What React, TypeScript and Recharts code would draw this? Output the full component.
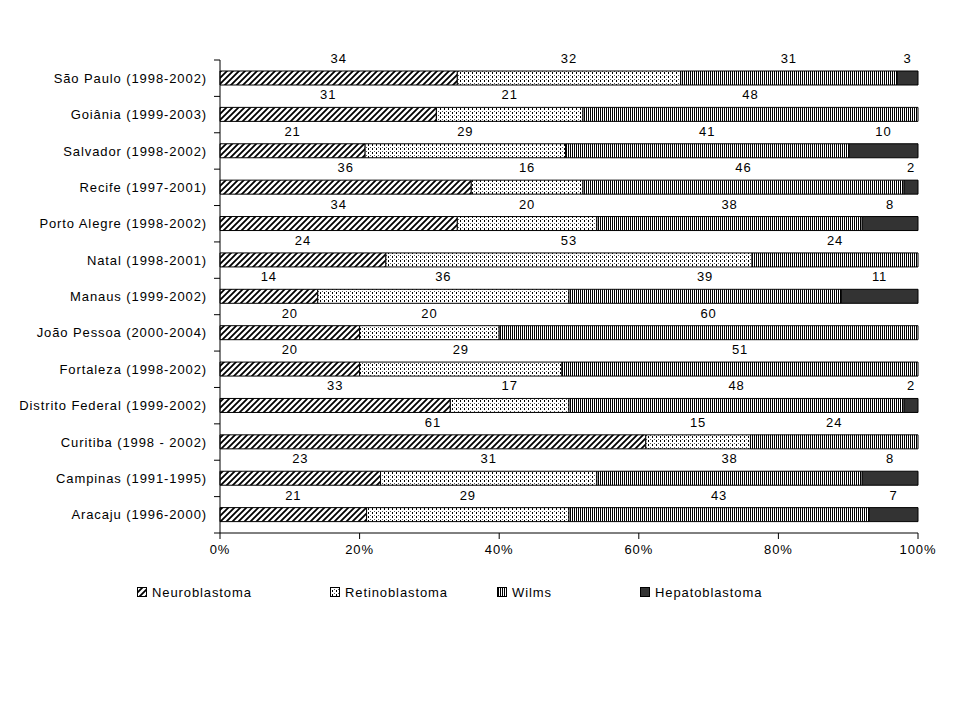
import React from 'react';
import { BarChart, Bar, XAxis, YAxis, LabelList } from 'recharts';

const categories = [
  'São Paulo (1998-2002)',
  'Goiânia (1999-2003)',
  'Salvador (1998-2002)',
  'Recife (1997-2001)',
  'Porto Alegre (1998-2002)',
  'Natal (1998-2001)',
  'Manaus (1999-2002)',
  'João Pessoa (2000-2004)',
  'Fortaleza (1998-2002)',
  'Distrito Federal (1999-2002)',
  'Curitiba (1998 - 2002)',
  'Campinas (1991-1995)',
  'Aracaju (1996-2000)',
];
const neuroblastoma = [34, 31, 21, 36, 34, 24, 14, 20, 20, 33, 61, 23, 21];
const retinoblastoma = [32, 21, 29, 16, 20, 53, 36, 20, 29, 17, 15, 31, 29];
const wilms = [31, 48, 41, 46, 38, 24, 39, 60, 51, 48, 24, 38, 43];
const hepatoblastoma = [3, 0, 10, 2, 8, 0, 11, 0, 0, 2, 0, 8, 7];
const xTicks = [0, 0.2, 0.4, 0.6, 0.8, 1];

const seriesNames = ['Neuroblastoma', 'Retinoblastoma', 'Wilms', 'Hepatoblastoma'];
const seriesKeys = ['neuro', 'retino', 'wilms', 'hepato'];
const seriesFills = ['url(#pNeuro)', 'url(#pRetino)', 'url(#pWilms)', '#333333'];

const data = categories.map((c, i) => ({
  name: c,
  neuro: neuroblastoma[i],
  retino: retinoblastoma[i],
  wilms: wilms[i],
  hepato: hepatoblastoma[i],
}));

const FONT = '"Liberation Sans", Arial, sans-serif';
const textStyle = { fontFamily: FONT, fontSize: 13, letterSpacing: '0.9px' };

const ValueLabel = (props: any) => {
  const { x, y, width, value } = props;
  if (!value) return null;
  return (
    <text x={Number(x) + Number(width) / 2} y={Number(y) - 8} textAnchor="middle" fill="#000" style={textStyle}>
      {value}
    </text>
  );
};

const CatTick = (props: any) => {
  const { x, y, payload, index, visibleTicksCount } = props;
  const half = payload && payload.offset ? payload.offset : 0;
  const axisX = Number(x) + 13;
  const last = visibleTicksCount ? index === visibleTicksCount - 1 : index === categories.length - 1;
  return (
    <g>
      <text x={Number(x)} y={Number(y)} dy="0.355em" textAnchor="end" fill="#000" style={textStyle}>
        {payload.value}
      </text>
      <line x1={axisX - 6} x2={axisX} y1={Number(y) - half} y2={Number(y) - half} stroke="#000" />
      {last ? <line x1={axisX - 6} x2={axisX} y1={Number(y) + half} y2={Number(y) + half} stroke="#000" /> : null}
    </g>
  );
};

const Defs = () => (
  <defs>
    <pattern id="pNeuro" patternUnits="userSpaceOnUse" width="6" height="6">
      <rect width="6" height="6" fill="#fff" />
      <path d="M-1,7 L7,-1 M-4,4 L4,-4 M2,10 L10,2" stroke="#000" strokeWidth="1.8" />
    </pattern>
    <pattern id="pRetino" patternUnits="userSpaceOnUse" width="4" height="4">
      <rect width="4" height="4" fill="#fff" />
      <rect x="0" y="0" width="1" height="2" fill="#000" />
      <rect x="2" y="3" width="1" height="1" fill="#555" />
    </pattern>
    <pattern id="pWilms" patternUnits="userSpaceOnUse" width="2" height="4">
      <rect width="2" height="4" fill="#fff" />
      <rect x="0" y="0" width="1" height="4" fill="#000" />
    </pattern>
  </defs>
);

const legendLeft = [129, 322, 489, 632];

export default function App() {
  return (
    <div style={{ position: 'relative', width: 944, height: 704 }}>
      <BarChart
        width={944}
        height={704}
        data={data}
        layout="vertical"
        stackOffset="expand"
        margin={{ top: 52, right: 34, left: 0, bottom: 149 }}
      >
        <Defs />
        <XAxis
          type="number"
          domain={[0, 1]}
          ticks={xTicks}
          tickFormatter={(v: number) => `${Math.round(v * 100)}%`}
          tick={{ fill: '#000', style: textStyle }}
          tickMargin={6}
          tickSize={6}
          axisLine={{ stroke: '#000' }}
          tickLine={{ stroke: '#000' }}
        />
        <YAxis
          type="category"
          dataKey="name"
          width={212}
          tickLine={false}
          axisLine={{ stroke: '#000' }}
          tickSize={6}
          tickMargin={7}
          interval={0}
          tick={<CatTick />}
        />
        {seriesKeys.map((k, i) => (
          <Bar
            key={k}
            dataKey={k}
            name={seriesNames[i]}
            stackId="a"
            fill={seriesFills[i]}
            stroke="#000"
            strokeWidth={1}
            barSize={14}
            isAnimationActive={false}
          >
            <LabelList dataKey={k} content={ValueLabel} />
          </Bar>
        ))}
      </BarChart>
      <svg width={944} height={30} style={{ position: 'absolute', left: 0, top: 570 }}>
        {seriesNames.map((n, i) => (
          <g key={n}>
            <rect x={legendLeft[i] + 0.5} y={9.5} width={9} height={9} fill={seriesFills[i]} stroke="#000" />
            <text x={legendLeft[i] + 15} y={19} fill="#000" style={textStyle}>{n}</text>
          </g>
        ))}
      </svg>
    </div>
  );
}
